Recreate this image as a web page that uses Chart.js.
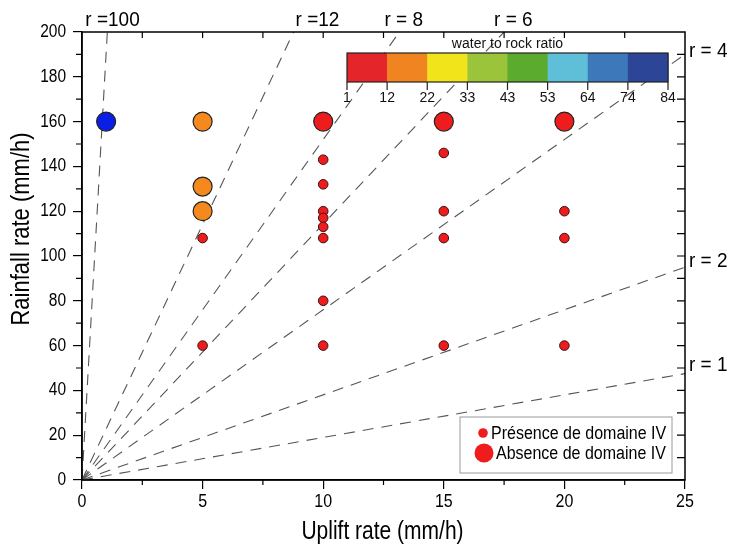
<!DOCTYPE html>
<html>
<head>
<meta charset="utf-8">
<script src="https://cdn.jsdelivr.net/npm/chart.js"></script>
<style>
  html, body { margin: 0; padding: 0; background: #fff; }
  #wrap { width: 732px; height: 546px; }
</style>
</head>
<body>
<div id="wrap"><canvas id="chart"></canvas></div>
<script>
const FONT = "'Liberation Sans', Arial, sans-serif";

// Absence de domaine IV (big markers)
const bigX = [1, 5, 5, 5, 10, 15, 20];
const bigY = [160, 160, 131, 120, 160, 160, 160];
const bigColors = ['#0a1ee6', '#f5891e', '#f5891e', '#f5891e', '#ee1c1c', '#ee1c1c', '#ee1c1c'];

// Présence de domaine IV (small markers)
const smallX = [5, 5, 10, 10, 10, 10, 10, 10, 10, 10, 15, 15, 15, 15, 20, 20, 20];
const smallY = [108, 60, 143, 132, 120, 117, 113, 108, 80, 60, 146, 120, 108, 60, 120, 108, 60];

// ratio lines, all starting at the origin; end points
const ratioLabels = ['r =100', 'r =12', 'r = 8', 'r = 6', 'r = 4', 'r = 2', 'r = 1'];
const ratioEndX = [1.05, 8.77, 13.16, 17.5, 25, 25, 25];
const ratioEndY = [200, 200, 200, 200, 190, 95, 47.5];

// colour bar (water to rock ratio)
const barTitle = 'water to rock ratio';
const barTicks = ['1', '12', '22', '33', '43', '53', '64', '74', '84'];
const barColors = ['#e4252a', '#ef8420', '#f1e41a', '#9bc43a', '#5aab2e', '#5fbfd9', '#3d79ba', '#2c4597'];

const legendLabels = ['Présence de domaine IV', 'Absence de domaine IV'];
const xTitle = 'Uplift rate (mm/h)';
const yTitle = 'Rainfall rate (mm/h)';

const datasets = [];

// dashed ratio lines
ratioLabels.forEach((lab, i) => {
  datasets.push({
    label: lab,
    data: [{ x: 0, y: 0 }, { x: ratioEndX[i], y: ratioEndY[i] }],
    showLine: true,
    borderColor: '#555',
    borderWidth: 1.1,
    borderDash: [11, 8],
    pointRadius: 0,
    order: 2
  });
});

datasets.push({
  label: legendLabels[0],
  data: smallX.map((x, i) => ({ x, y: smallY[i] })),
  backgroundColor: '#ee1c1c',
  borderColor: '#3a1010',
  borderWidth: 1,
  pointRadius: 4.8,
  order: 1
});

datasets.push({
  label: legendLabels[1],
  data: bigX.map((x, i) => ({ x, y: bigY[i] })),
  backgroundColor: bigColors,
  borderColor: '#222',
  borderWidth: 1.2,
  pointRadius: 9.5,
  order: 0
});

// text drawn a little taller than wide, like the original
function tallText(ctx, txt, x, y, size, stretch, align, rot) {
  ctx.save();
  ctx.translate(x, y);
  if (rot) ctx.rotate(rot);
  ctx.scale(1, stretch);
  ctx.font = size + 'px ' + FONT;
  ctx.textAlign = align;
  ctx.textBaseline = 'middle';
  ctx.fillText(txt, 0, 0);
  ctx.restore();
}

// frame, minor ticks, tick labels, colour bar, ratio labels, titles and legend box
const decorations = {
  id: 'decorations',
  afterDatasetsDraw(chart) {
    const { ctx, chartArea: a, scales } = chart;
    const sx = scales.x, sy = scales.y;
    ctx.save();

    // frame
    ctx.strokeStyle = '#000';
    ctx.lineWidth = 1.5;
    ctx.strokeRect(a.left, a.top, a.right - a.left, a.bottom - a.top);

    // minor ticks outward on bottom/left, inward ticks on top/right
    ctx.lineWidth = 1.2;
    ctx.beginPath();
    for (let v = 2.5; v < 25; v += 2.5) {
      const px = sx.getPixelForValue(v);
      if (v % 5) { ctx.moveTo(px, a.bottom); ctx.lineTo(px, a.bottom + 5); }
      ctx.moveTo(px, a.top); ctx.lineTo(px, a.top + 6);
    }
    for (let v = 10; v < 200; v += 10) {
      const py = sy.getPixelForValue(v);
      if (v % 20) { ctx.moveTo(a.left, py); ctx.lineTo(a.left - 6, py); }
      ctx.moveTo(a.right, py); ctx.lineTo(a.right - 8, py);
    }
    ctx.stroke();

    // tick labels from the scales' own ticks
    ctx.fillStyle = '#000';
    sx.ticks.forEach(t => tallText(ctx, String(t.value), sx.getPixelForValue(t.value), 502, 16, 1.15, 'center'));
    sy.ticks.forEach(t => tallText(ctx, String(t.value), a.left - 16, sy.getPixelForValue(t.value), 15.5, 1.15, 'right'));

    // colour bar
    const bx0 = 347, bx1 = 668, by0 = 53, by1 = 82;
    const cw = (bx1 - bx0) / barColors.length;
    barColors.forEach((c, i) => {
      ctx.fillStyle = c;
      ctx.fillRect(bx0 + i * cw, by0, cw + 0.5, by1 - by0);
    });
    ctx.strokeStyle = '#222';
    ctx.lineWidth = 1.2;
    ctx.strokeRect(bx0, by0, bx1 - bx0, by1 - by0);
    ctx.beginPath();
    barTicks.forEach((t, i) => {
      const px = bx0 + i * cw;
      ctx.moveTo(px, by1); ctx.lineTo(px, by1 + 8);
    });
    ctx.stroke();
    ctx.fillStyle = '#111';
    barTicks.forEach((t, i) => tallText(ctx, t, bx0 + i * cw, by1 + 16, 14, 1.1, 'center'));
    tallText(ctx, barTitle, (bx0 + bx1) / 2, by0 - 9, 14, 1.05, 'center');

    // ratio labels
    ctx.fillStyle = '#000';
    const topOff = [-22, 2, -15, -10];
    const rightOff = [-3, -6, -8];
    let ti = 0, ri = 0;
    ratioLabels.forEach((lab, i) => {
      if (ratioEndY[i] >= 200) {
        tallText(ctx, lab, sx.getPixelForValue(ratioEndX[i]) + topOff[ti++], a.top - 12, 19, 1.08, 'left');
      } else {
        tallText(ctx, lab, a.right + 4, sy.getPixelForValue(ratioEndY[i]) + rightOff[ri++], 19, 1.08, 'left');
      }
    });

    // axis titles
    tallText(ctx, xTitle, (a.left + a.right) / 2 - 1, 532, 21, 1.25, 'center');
    tallText(ctx, yTitle, 22, 229, 22, 1.15, 'center', -Math.PI / 2);

    // legend box
    const lx0 = 460, ly0 = 417, lx1 = 672, ly1 = 473;
    ctx.fillStyle = '#fff';
    ctx.fillRect(lx0, ly0, lx1 - lx0, ly1 - ly0);
    ctx.strokeStyle = '#9a9a9a';
    ctx.lineWidth = 1;
    ctx.strokeRect(lx0, ly0, lx1 - lx0, ly1 - ly0);
    ctx.fillStyle = '#ee1c1c';
    ctx.beginPath(); ctx.arc(483, 433, 4.8, 0, Math.PI * 2); ctx.fill();
    ctx.beginPath(); ctx.arc(484, 453, 9.5, 0, Math.PI * 2); ctx.fill();
    ctx.fillStyle = '#000';
    tallText(ctx, legendLabels[0], 491, 434, 16, 1.1, 'left');
    tallText(ctx, legendLabels[1], 496, 454, 16, 1.1, 'left');

    ctx.restore();
  }
};

new Chart(document.getElementById('chart'), {
  type: 'scatter',
  data: { datasets },
  options: {
    responsive: true,
    maintainAspectRatio: false,
    animation: false,
    layout: { padding: { top: 32, right: 47, left: 0, bottom: 0 } },
    plugins: { legend: { display: false }, tooltip: { enabled: false } },
    scales: {
      x: {
        type: 'linear', min: 0, max: 25,
        ticks: { stepSize: 5, display: false },
        grid: { drawOnChartArea: false, drawTicks: true, tickLength: 9, color: '#000', lineWidth: 1.2 },
        border: { color: '#000', width: 1.5 },
        afterFit(s) { s.height = 66; }
      },
      y: {
        type: 'linear', min: 0, max: 200,
        ticks: { stepSize: 20, display: false },
        grid: { drawOnChartArea: false, drawTicks: true, tickLength: 9, color: '#000', lineWidth: 1.2 },
        border: { color: '#000', width: 1.5 },
        afterFit(s) { s.width = 82; }
      }
    }
  },
  plugins: [decorations]
});
</script>
</body>
</html>
